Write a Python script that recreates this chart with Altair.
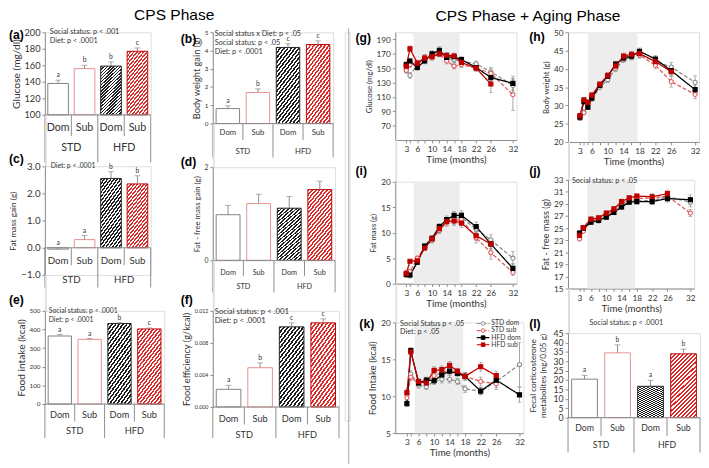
import altair as alt
import pandas as pd

FONT = "Lato"
HEAD_FONT = "Liberation Sans"
AXC = "#8c8c8c"
TXT = "#333333"
ERRC = "#8c8c8c"

# ---------------- categories ----------------
CATS = ["STD Dom", "STD Sub", "HFD Dom", "HFD Sub"]
CAT_LABELS = ["Dom", "Sub", "Dom", "Sub"]
GROUP_LABELS = ["STD", "HFD"]
GROUP_AT = ["STD Sub", "HFD Sub"]

# ---------------- bar panels (CPS phase) ----------------
glucose_vals = [138, 156, 159, 177]
glucose_err = [4, 4, 5, 4]
glucose_let = ["a", "b", "b", "c"]

bwgain_vals = [0.82, 1.70, 4.17, 4.33]
bwgain_err = [0.15, 0.20, 0.20, 0.20]
bwgain_let = ["a", "b", "c", "c"]

fatgain_vals = [-0.05, 0.30, 2.55, 2.35]
fatgain_err = [0.05, 0.15, 0.25, 0.30]
fatgain_let = ["a", "a", "b", "b"]

ffgain_vals = [0.98, 1.22, 1.12, 1.52]
ffgain_err = [0.20, 0.20, 0.25, 0.18]
ffgain_let = ["", "", "", ""]

intake_vals = [365, 347, 432, 403]
intake_err = [8, 5, 4, 5]
intake_let = ["a", "a", "b", "c"]

effic_vals = [0.0022, 0.0049, 0.0100, 0.0105]
effic_err = [0.0005, 0.0006, 0.0005, 0.0005]
effic_let = ["a", "b", "c", "c"]

cort_vals = [20.5, 34.5, 16.7, 34.0]
cort_err = [2.0, 4.3, 3.2, 2.5]
cort_let = ["a", "b", "a", "b"]

# ---------------- line panels (CPS + aging) ----------------
SERIES = ["STD dom", "STD sub", "HFD dom", "HFD sub"]
months_a = [3, 4, 6, 8, 10, 12, 14, 16, 18, 22, 26, 32]
months_b = [3, 4, 5, 6, 8, 10, 12, 14, 16, 18, 22, 26, 32]
month_labels = [3, 6, 10, 14, 18, 22, 26, 32]
cps_phase = [5, 17.5]

glu_std_dom = [148, 140, 155, 163, 168, 172, 163, 162, 160, 156, 145, 126]
glu_std_sub = [147, 155, 157, 165, 165, 170, 160, 153, 155, 150, 143, 113]
glu_hfd_dom = [155, 160, 151, 160, 170, 175, 165, 166, 162, 151, 137, 129]
glu_hfd_sub = [153, 177, 157, 164, 166, 170, 168, 167, 158, 150, 128, None]
glu_err_std_dom = [4, 4, 4, 4, 4, 4, 4, 4, 4, 4, 6, 10]
glu_err_std_sub = [4, 4, 4, 4, 4, 4, 4, 4, 4, 4, 6, 22]
glu_err_hfd_dom = [4, 4, 4, 4, 4, 5, 4, 4, 4, 4, 6, 10]
glu_err_hfd_sub = [4, 4, 4, 4, 4, 4, 4, 4, 4, 4, 12, None]

bw_std_dom = [26.5, 28.2, 30.3, 31.8, 35.0, 37.0, 40.0, 42.5, 43.2, 44.0, 42.0, 40.5, 36.3]
bw_std_sub = [26.5, 28.0, 31.0, 32.5, 35.5, 38.0, 40.5, 42.8, 43.5, 43.8, 41.0, 36.5, 33.0]
bw_hfd_dom = [26.8, 31.0, 29.5, 32.0, 35.5, 38.0, 41.3, 43.0, 43.5, 44.8, 42.7, 39.5, 34.3]
bw_hfd_sub = [27.2, 31.5, 30.8, 32.8, 35.8, 38.2, 40.8, 43.5, 44.0, 44.2, 42.0, 39.2, None]
bw_err_std_dom = [0.5, 0.6, 0.6, 0.6, 0.6, 0.7, 0.8, 0.8, 0.8, 0.9, 1.0, 1.2, 1.8]
bw_err_std_sub = [0.5, 0.6, 0.6, 0.6, 0.6, 0.7, 0.8, 0.8, 0.8, 0.9, 1.0, 1.5, 1.2]
bw_err_hfd_dom = [0.5, 0.6, 0.6, 0.6, 0.6, 0.7, 0.8, 0.8, 0.8, 0.9, 1.0, 1.2, 1.2]
bw_err_hfd_sub = [0.5, 0.6, 0.6, 0.6, 0.6, 0.7, 0.8, 0.8, 0.8, 0.9, 1.0, 1.2, None]

fm_std_dom = [1.6, 1.5, 4.3, 7.0, 8.5, 10.5, 12.3, 12.8, 13.0, 10.7, 8.6, 5.0]
fm_std_sub = [2.2, 2.4, 5.0, 7.1, 8.8, 10.5, 12.0, 12.3, 12.6, 9.0, 6.1, 2.2]
fm_hfd_dom = [1.8, 1.7, 4.2, 7.4, 8.9, 11.2, 12.6, 13.4, 13.4, 11.2, 7.8, 3.0]
fm_hfd_sub = [2.0, 4.4, 4.5, 7.0, 8.8, 10.8, 12.2, 12.3, 11.9, 9.4, 7.8, None]
fm_err_std_dom = [0.3, 0.3, 0.4, 0.4, 0.5, 0.6, 0.7, 0.8, 0.9, 0.9, 1.0, 1.3]
fm_err_std_sub = [0.3, 0.3, 0.4, 0.4, 0.5, 0.6, 0.7, 0.8, 0.9, 1.0, 1.3, 0.6]
fm_err_hfd_dom = [0.3, 0.3, 0.4, 0.4, 0.5, 0.6, 0.7, 0.8, 0.9, 0.9, 1.0, 1.0]
fm_err_hfd_sub = [0.3, 0.3, 0.4, 0.4, 0.5, 0.6, 0.7, 0.8, 0.9, 0.9, 1.0, None]

ffm_std_dom = [24.0, 24.7, 26.0, 26.2, 27.0, 27.8, 28.7, 29.5, 29.5, 29.6, 30.2, 29.3]
ffm_std_sub = [23.2, 24.5, 26.2, 26.5, 27.3, 28.0, 29.0, 29.7, 29.9, 30.0, 30.3, 27.5]
ffm_hfd_dom = [24.2, 25.0, 26.0, 26.3, 26.8, 27.6, 28.5, 29.3, 29.4, 29.4, 29.9, 29.7]
ffm_hfd_sub = [23.8, 25.1, 26.5, 26.7, 27.5, 28.2, 29.4, 30.0, 30.3, 30.2, 30.7, None]
ffm_err_std_dom = [0.3, 0.3, 0.3, 0.3, 0.3, 0.3, 0.4, 0.4, 0.4, 0.5, 0.6, 0.8]
ffm_err_std_sub = [0.3, 0.3, 0.3, 0.3, 0.3, 0.3, 0.4, 0.4, 0.4, 0.5, 0.6, 0.6]
ffm_err_hfd_dom = [0.3, 0.3, 0.3, 0.3, 0.3, 0.3, 0.4, 0.4, 0.4, 0.5, 0.6, 0.8]
ffm_err_hfd_sub = [0.3, 0.3, 0.3, 0.3, 0.3, 0.3, 0.4, 0.4, 0.4, 0.5, 0.6, None]

fi_std_dom = [10.2, 13.0, 11.5, 11.3, 12.0, 12.3, 12.3, 12.0, 11.0, 10.7, 12.0, 14.3]
fi_std_sub = [9.8, 12.6, 11.7, 12.0, 12.8, 13.2, 13.6, 13.2, 12.7, 12.0, 11.7, None]
fi_hfd_dom = [9.0, 16.2, 11.8, 12.2, 12.1, 12.9, 13.4, 13.1, 12.7, 10.7, 12.2, 10.2]
fi_hfd_sub = [10.5, 16.0, 12.0, 11.8, 13.5, 13.6, 14.2, 13.4, 12.7, 14.0, 12.8, None]
fi_err_std_dom = [0.5, 0.5, 0.4, 0.4, 0.4, 0.5, 0.5, 0.4, 0.5, 0.5, 0.8, 3.0]
fi_err_std_sub = [0.5, 0.5, 0.4, 0.4, 0.4, 0.5, 0.5, 0.4, 0.5, 0.6, 0.8, None]
fi_err_hfd_dom = [0.4, 0.4, 0.4, 0.4, 0.4, 0.5, 0.5, 0.4, 0.5, 0.5, 0.6, 1.0]
fi_err_hfd_sub = [0.5, 0.5, 0.4, 0.4, 0.5, 0.5, 0.5, 0.4, 0.5, 0.6, 0.6, None]

SER_COLOR = ["#8a8a8a", "#e05a5a", "#000000", "#c00000"]
SER_FILL = ["#ffffff", "#ffffff", "#000000", "#c00000"]
SER_DASH = [[4, 2], [4, 2], [1, 0], [1, 0]]
SER_SHAPE = ["circle", "circle", "square", "square"]

ONE = pd.DataFrame({"k": [0]})


def stripes(c1, c2, n=22):
    stops = []
    for i in range(n):
        a, m, b = i / n, (i + 0.5) / n, (i + 1) / n
        stops += [{"offset": a, "color": c1}, {"offset": m, "color": c1},
                  {"offset": m, "color": c2}, {"offset": b, "color": c2}]
    return {"gradient": "linear", "x1": 0, "y1": 0, "x2": 0.48, "y2": 1.2, "stops": stops}


BAR_FILL = ["#ffffff", "#ffffff", stripes("#1f1f1f", "#ffffff"), stripes("#e02a2a", "#ffffff")]
BAR_STROKE = ["#7f7f7f", "#e88e8e", "#1f1f1f", "#c00000"]


def text_layer(txt, x, y, fs, align="left", weight="normal", font=FONT, color=TXT):
    return alt.Chart(ONE).mark_text(align=align, baseline="middle", fontSize=fs,
                                    fontWeight=weight, font=font, color=color).encode(
        x=alt.value(x), y=alt.value(y), text=alt.value(txt))


def bar_panel(vals, errs, lets, ytitle, ydom, yticks, yfmt, w, h, lab, lab_xy,
              annots=(), ann_xy=(4, 0), ann_lh=9, ann_fs=7.5, base_frac=1.0,
              tick_fs=8, title_fs=11, cat_fs=9, rows=(12, 29), seps=(18, 35), let_fs=7,
              title_pad=3):
    df = pd.DataFrame({"c": CATS, "lab": CAT_LABELS, "v": vals, "e": errs, "let": lets})
    xsc = alt.Scale(type="band", domain=CATS, paddingInner=0, paddingOuter=0)
    X = alt.X("c:N", scale=xsc, axis=None)
    ysc = alt.Scale(domain=ydom, nice=False, zero=False)
    yax = alt.Axis(values=yticks, format=yfmt, title=ytitle, titleFontSize=title_fs,
                   labelFontSize=tick_fs, titlePadding=title_pad, labelPadding=2, tickSize=3, grid=False)
    base = alt.Chart(df).transform_calculate(top="datum.v + datum.e")
    basey = h * base_frac
    layers = []
    for cat, fill, stroke in zip(CATS, BAR_FILL, BAR_STROKE):
        layers.append(base.transform_filter(alt.datum.c == cat).mark_bar(
            width={"band": 0.78}, fill=fill, stroke=stroke, strokeWidth=1).encode(
            x=X, y=alt.Y("v:Q", scale=ysc, axis=yax), y2=alt.datum(max(ydom[0], 0))))
    layers.append(base.mark_rule(color=ERRC, strokeWidth=1).encode(
        x=X, y=alt.Y("v:Q", scale=ysc, axis=yax), y2="top:Q"))
    layers.append(base.mark_tick(color=ERRC, thickness=1, size=6, orient="horizontal").encode(
        x=X, y=alt.Y("top:Q", scale=ysc, axis=yax)))
    layers.append(base.mark_text(dy=-5, fontSize=let_fs, color=TXT).encode(
        x=X, y=alt.Y("top:Q", scale=ysc, axis=yax), text="let:N"))
    layers.append(alt.Chart(ONE).mark_rule(color=AXC).encode(
        x=alt.value(0), x2=alt.value(w), y=alt.value(basey)))
    layers.append(alt.Chart(df).mark_text(fontSize=cat_fs, color=TXT, baseline="middle").encode(
        x=X, y=alt.value(basey + rows[0]), text="lab:N"))
    gdf = pd.DataFrame({"c": GROUP_AT, "g": GROUP_LABELS})
    layers.append(alt.Chart(gdf).mark_text(fontSize=cat_fs, color=TXT, baseline="middle").encode(
        x=alt.X("c:N", scale=xsc, axis=None, bandPosition=0), y=alt.value(basey + rows[1]), text="g:N"))
    layers.append(alt.Chart(pd.DataFrame({"c": GROUP_AT})).mark_rule(color=AXC).encode(
        x=alt.X("c:N", scale=xsc, axis=None, bandPosition=0),
        y=alt.value(basey), y2=alt.value(basey + seps[0])))
    layers.append(alt.Chart(pd.DataFrame({"c": ["STD Dom", "HFD Dom"]})).mark_rule(color=AXC).encode(
        x=alt.X("c:N", scale=xsc, axis=None, bandPosition=0),
        y=alt.value(basey), y2=alt.value(basey + seps[1])))
    layers.append(alt.Chart(pd.DataFrame({"c": ["HFD Sub"]})).mark_rule(color=AXC).encode(
        x=alt.X("c:N", scale=xsc, axis=None, bandPosition=1),
        y=alt.value(basey), y2=alt.value(basey + seps[1])))
    for i, t in enumerate(annots):
        layers.append(text_layer(t, ann_xy[0], ann_xy[1] + i * ann_lh, ann_fs))
    layers.append(text_layer(lab, lab_xy[0], lab_xy[1], 12.5, weight="bold", font=HEAD_FONT, color="#000"))
    return alt.layer(*layers).properties(width=w, height=h)


def line_panel(xs, vals, errs, ytitle, ydom, yticks, w, h, lab, lab_xy,
               annots=(), ann_xy=(4, 1), ann_lh=8, legend=False, tick_fs=8.5, title_fs=9.5):
    rows = []
    for s, vs, es in zip(SERIES, vals, errs):
        for x, v, e in zip(xs, vs, es):
            if v is not None:
                rows.append({"s": s, "x": x, "v": v, "e": e})
    df = pd.DataFrame(rows)
    xsc = alt.Scale(domain=[0, 33], nice=False, zero=False)
    expr = "indexof(%s, datum.value) >= 0 ? datum.label : ''" % str(month_labels)
    xax = alt.Axis(values=xs, labelExpr=expr, title="Time (months)", labelFontSize=tick_fs,
                   titleFontSize=10, tickSize=3, grid=False, labelPadding=2, titlePadding=2,
                   labelOverlap=False)
    X = alt.X("x:Q", scale=xsc, axis=xax)
    ysc = alt.Scale(domain=ydom, nice=False, zero=False)
    yax = alt.Axis(values=yticks, format="d", title=ytitle, titleFontSize=title_fs,
                   labelFontSize=tick_fs, titlePadding=3, labelPadding=2, tickSize=3, grid=False)
    layers = []
    band = pd.DataFrame({"b0": [cps_phase[0]], "b1": [cps_phase[1]]})
    layers.append(alt.Chart(band).mark_rect(color="#ededed").encode(
        x=alt.X("b0:Q", scale=xsc, axis=xax), x2="b1:Q", y=alt.value(0), y2=alt.value(h)))
    eb = alt.Chart(df).transform_calculate(lo="datum.v - datum.e", hi="datum.v + datum.e")
    layers.append(eb.mark_rule(color=ERRC, strokeWidth=0.8).encode(
        x=X, y=alt.Y("lo:Q", scale=ysc, axis=yax), y2="hi:Q"))
    for f in ["lo", "hi"]:
        layers.append(eb.mark_tick(color=ERRC, thickness=0.8, size=4, orient="horizontal").encode(
            x=X, y=alt.Y(f + ":Q", scale=ysc, axis=yax)))
    Y = alt.Y("v:Q", scale=ysc, axis=yax)
    layers.append(alt.Chart(df).mark_line(strokeWidth=1.3).encode(
        x=X, y=Y,
        color=alt.Color("s:N", scale=alt.Scale(domain=SERIES, range=SER_COLOR), legend=None),
        strokeDash=alt.StrokeDash("s:N", scale=alt.Scale(domain=SERIES, range=SER_DASH), legend=None)))
    layers.append(alt.Chart(df).mark_point(filled=True, size=18, strokeWidth=1.1, opacity=1).encode(
        x=X, y=Y,
        shape=alt.Shape("s:N", scale=alt.Scale(domain=SERIES, range=SER_SHAPE), legend=None),
        fill=alt.Fill("s:N", scale=alt.Scale(domain=SERIES, range=SER_FILL), legend=None),
        stroke=alt.Stroke("s:N", scale=alt.Scale(domain=SERIES, range=SER_COLOR), legend=None)))
    for i, t in enumerate(annots):
        layers.append(text_layer(t, ann_xy[0], ann_xy[1] + i * ann_lh, 7.5))
    if legend:
        for i, (s, c, fl, d, sh) in enumerate(zip(SERIES, SER_COLOR, SER_FILL, SER_DASH, SER_SHAPE)):
            ly = 1 + i * 7.3
            layers.append(alt.Chart(ONE).mark_rule(color=c, strokeDash=d, strokeWidth=1.2).encode(
                x=alt.value(84), x2=alt.value(97), y=alt.value(ly)))
            layers.append(alt.Chart(ONE).mark_point(shape=sh, filled=True, fill=fl, stroke=c,
                                                    strokeWidth=1, size=14, opacity=1).encode(
                x=alt.value(90.5), y=alt.value(ly)))
            layers.append(text_layer(s, 99, ly, 7))
    layers.append(text_layer(lab, lab_xy[0], lab_xy[1], 12.5, weight="bold", font=HEAD_FONT, color="#000"))
    return alt.layer(*layers).properties(width=w, height=h)


def spacer(hh):
    return alt.Chart(ONE).mark_point(opacity=0).encode(
        x=alt.value(0), y=alt.value(0)).properties(width=1, height=hh)


pa = bar_panel(glucose_vals, glucose_err, glucose_let, "Glucose (mg/dl)", [100, 200],
               [100, 120, 140, 160, 180, 200], "d", 109, 85, "(a)", (-37, 3),
               annots=["Social status: p < .001", "Diet: p < .0001"], ann_xy=(5, 0), ann_lh=9,
               tick_fs=9.5, title_fs=10.5, cat_fs=11, rows=(14, 34), seps=(22, 49))
pb = bar_panel(bwgain_vals, bwgain_err, bwgain_let, "Body weight gain (g)", [0, 5],
               [0, 1, 2, 3, 4, 5], "d", 124, 94, "(b)", (-33, 7),
               annots=["Social status x Diet: p < .05", "Social status: p < .05", "Diet: p < .0001"],
               ann_xy=(2, 2), ann_lh=9, tick_fs=6.5, title_fs=9.5, cat_fs=8, rows=(10, 29), seps=(17, 35))
pc = bar_panel(fatgain_vals, fatgain_err, fatgain_let, "Fat mass gain (g)", [-1, 3],
               [-1, 0, 1, 2, 3], ".1f", 109, 112, "(c)", (-37, -7),
               annots=["Diet: p < .0001"], ann_xy=(6, 0), ann_fs=7, base_frac=0.75,
               tick_fs=10, title_fs=8.5, cat_fs=10, rows=(14, 33), seps=(18, 41))
pd_ = bar_panel(ffgain_vals, ffgain_err, ffgain_let, "Fat - free mass gain (g)", [0, 2],
                [0, 1, 2], "d", 126, 96, "(d)", (-33, -5),
                tick_fs=7, title_fs=8, cat_fs=7.5, rows=(13, 27), seps=(16, 33))
pe = bar_panel(intake_vals, intake_err, intake_let, "Food intake (kcal)", [0, 500],
               [0, 100, 200, 300, 400, 500], "d", 123, 96, "(e)", (-37, -11),
               annots=["Social status: p < .0001", "Diet: p < .0001"], ann_xy=(4, 0), ann_lh=9, ann_fs=7,
               tick_fs=6.5, title_fs=10.5, cat_fs=9.5, rows=(11, 28), seps=(18, 35))
pf = bar_panel(effic_vals, effic_err, effic_let, "Food efficiency (g/kcal)", [0, 0.012],
               [0, 0.004, 0.008, 0.012], ".3f", 130, 99, "(f)", (-33, -11),
               annots=["Social status: p < .001", "Diet: p < .0001"], ann_xy=(2, 1), ann_lh=10, ann_fs=8,
               tick_fs=5.5, title_fs=9.5, cat_fs=9.5, rows=(12, 29), seps=(18, 32))
pl = bar_panel(cort_vals, cort_err, cort_let, ["Fecal corticosterone", "metabolites (ng/0.05 g)"],
               [0, 45], [0, 5, 10, 15, 20, 25, 30, 35, 40, 45], "d", 136, 87, "(l)", (-40, -9),
               annots=["Social status: p < .0001"], ann_xy=(22, -10), ann_fs=7.5,
               tick_fs=9, title_fs=8.5, cat_fs=9, rows=(11, 28), seps=(19, 36), title_pad=6)

pg = line_panel(months_a, [glu_std_dom, glu_std_sub, glu_hfd_dom, glu_hfd_sub],
                [glu_err_std_dom, glu_err_std_sub, glu_err_hfd_dom, glu_err_hfd_sub],
                "Glucose (mg/dl)", [50, 200], [70, 90, 110, 130, 150, 170, 190], 125, 111, "(g)", (-41, 6),
                title_fs=8)
ph = line_panel(months_b, [bw_std_dom, bw_std_sub, bw_hfd_dom, bw_hfd_sub],
                [bw_err_std_dom, bw_err_std_sub, bw_err_hfd_dom, bw_err_hfd_sub],
                "Body weight (g)", [20, 50], [20, 25, 30, 35, 40, 45, 50], 135, 113, "(h)", (-40, 5),
                title_fs=8)
pi = line_panel(months_a, [fm_std_dom, fm_std_sub, fm_hfd_dom, fm_hfd_sub],
                [fm_err_std_dom, fm_err_std_sub, fm_err_hfd_dom, fm_err_hfd_sub],
                "Fat mass (g)", [0, 20], [0, 5, 10, 15, 20], 125, 105, "(i)", (-41, -11),
                title_fs=7.8)
pj = line_panel(months_a, [ffm_std_dom, ffm_std_sub, ffm_hfd_dom, ffm_hfd_sub],
                [ffm_err_std_dom, ffm_err_std_sub, ffm_err_hfd_dom, ffm_err_hfd_sub],
                "Fat - free mass (g)", [15, 33], [15, 17, 19, 21, 23, 25, 27, 29, 31, 33], 130, 112,
                "(j)", (-40, -9), annots=["Social status: p < .05"], ann_xy=(4, 1), title_fs=9.5)
pk = line_panel(months_a, [fi_std_dom, fi_std_sub, fi_hfd_dom, fi_hfd_sub],
                [fi_err_std_dom, fi_err_std_sub, fi_err_hfd_dom, fi_err_hfd_sub],
                "Food Intake (kcal)", [5, 20], [5, 10, 15, 20], 132, 114, "(k)", (-37, 2),
                annots=["Social Status p < .05", "Diet: p < .05"], ann_xy=(5, 2), ann_lh=8, legend=True,
                title_fs=10)

col1 = alt.vconcat(pa, spacer(53), pc, spacer(37), pe, spacing=0, bounds="flush")
col2 = alt.vconcat(pb, spacer(45), pd_, spacer(52), pf, spacing=0, bounds="flush")
col3 = alt.vconcat(pg, spacer(43), pi, spacer(40), pk, spacing=0, bounds="flush")
col4 = alt.vconcat(ph, spacer(39), pj, spacer(46), pl, spacing=0, bounds="flush")

left = alt.hconcat(col1, col2, spacing=15, title=alt.TitleParams("CPS Phase"))
right = alt.hconcat(col3, col4, spacing=2, title=alt.TitleParams("CPS Phase + Aging Phase"))
divider = alt.Chart(ONE).mark_rule(color="#a6a6a6", strokeWidth=1).encode(
    x=alt.value(4), y=alt.value(-4), y2=alt.value(445)).properties(width=5, height=400)

chart = alt.hconcat(left, divider, right, spacing=4).properties(
    padding={"left": 0, "top": -8, "right": 0, "bottom": 0}
).configure_view(stroke=None).configure(font=FONT).configure_axis(
    labelFont=FONT, titleFont=FONT, labelColor=TXT, titleColor=TXT, domainColor=AXC,
    tickColor=AXC, titleFontWeight="normal"
).configure_text(font=FONT, color=TXT).configure_title(
    font=HEAD_FONT, fontSize=16, fontWeight="normal", color="#000", anchor="middle", offset=0)

chart.save("out.html", embed_options={"renderer": "svg", "actions": False})
